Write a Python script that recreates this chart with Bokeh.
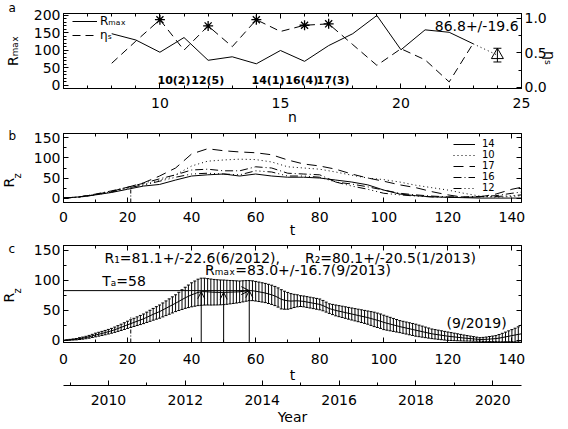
import math
from bokeh.plotting import figure
from bokeh.layouts import column
from bokeh.models import (Range1d, LinearAxis, Legend, LegendItem, Label, Arrow, OpenHead,
                          Whisker, TeeHead, ColumnDataSource, SingleIntervalTicker,
                          CustomJSTickFormatter, NumeralTickFormatter, Title)
from bokeh.embed import file_html
from bokeh.resources import INLINE

# ---------------- data: panel a ----------------
cycle_n = [8, 9, 10, 11, 12, 13, 14, 15, 16, 17, 18, 19, 20, 21, 22, 23]
r_max = [148, 130, 95, 137, 72, 82, 62, 100, 69, 114, 148, 200, 102, 159, 152, 119]
eta_s = [0.35, 0.67, 0.98, 0.54, 0.89, 0.59, 0.98, 0.81, 0.90, 0.92, 0.62, 0.32, 0.56, 0.40, 0.08, 0.64]
star_n = [10, 12, 14, 16, 17]
star_rank = [2, 5, 1, 4, 3]
pred_n = 24
pred_r = 86.8
pred_err = 19.6

# ---------------- data: panel b ----------------
t_b = [0, 5, 10, 15, 20, 25, 30, 35, 40, 45, 50, 55, 60, 65, 70, 75, 80, 85, 90, 95,
       100, 105, 110, 115, 120, 125, 130, 135, 140, 143]
rz_c14 = [0, 3, 8, 14, 22, 30, 34, 45, 55, 58, 60, 55, 60, 55, 52, 52, 50, 45, 40, 33,
          20, 10, 6, 3, 2, 1, 0, 0, 0, 0]
rz_c10 = [0, 3, 9, 16, 25, 33, 44, 58, 80, 92, 95, 97, 96, 90, 78, 75, 72, 65, 57, 50,
          46, 40, 32, 26, 20, 12, 5, 2, 4, 6]
rz_c17 = [0, 3, 9, 17, 27, 38, 55, 75, 110, 123, 118, 115, 113, 108, 95, 85, 80, 72, 60, 50,
          42, 33, 26, 16, 8, 2, 3, 10, 22, 27]
rz_c16 = [0, 3, 10, 18, 27, 37, 48, 58, 70, 72, 68, 68, 78, 75, 62, 60, 58, 40, 35, 28,
          20, 12, 8, 5, 3, 3, 4, 6, 12, 15]
rz_c12 = [0, 2, 8, 15, 25, 33, 42, 52, 60, 62, 60, 58, 68, 65, 55, 55, 52, 40, 30, 22,
          12, 8, 5, 3, 2, 2, 3, 4, 6, 8]
cycle_names = ["14", "10", "17", "16", "12"]

# ---------------- data: panel c ----------------
t_c = list(range(144))
mean_c = [0, 0.5, 1, 1.5, 2, 3, 3.8, 4.8, 6, 7.5,
          9, 10.3, 11.6, 13, 14.5, 16, 17.8, 19.8, 21.8, 23.8,
          26, 28, 30, 32, 34, 36, 38.5, 41, 43.5, 45.8,
          48, 50.8, 53.6, 56.4, 59.2, 62, 65, 68, 71, 73.5,
          76, 78, 80, 81.1, 81.3, 81, 80.6, 80.3, 80.1, 80,
          80.1, 80.2, 80.4, 80.6, 80.8, 81, 81.8, 82.5, 83, 82.8,
          82, 81, 80, 79, 77.5, 76, 74, 71.5, 68.5, 67,
          66, 65.5, 65.8, 66, 65.5, 65, 64, 63, 62, 61,
          60, 58, 55.5, 53, 51.5, 50, 48.8, 47.6, 46.4, 45.2,
          44, 42.8, 41.6, 40.4, 39.2, 38, 36.5, 35, 33.5, 32,
          30, 28.6, 27.2, 25.8, 24.4, 23, 21.8, 20.6, 19.4, 18.2,
          17, 15.8, 14.6, 13.4, 12.2, 11, 10.2, 9.4, 8.6, 7.8,
          7, 6.4, 5.8, 5.2, 4.6, 4, 3.5, 3, 2.5, 2,
          1.6, 1.6, 1.8, 2.2, 2.6, 3, 3.8, 4.8, 5.8, 6.9,
          8, 9, 10, 11]
sd_c = [0.3, 0.5, 0.7, 0.9, 1.1, 1.5, 1.7, 2, 2.3, 2.6,
        3, 3.2, 3.4, 3.6, 3.8, 4, 4.4, 4.8, 5.2, 5.6,
        6, 6.4, 6.8, 7.2, 7.6, 8, 8.6, 9.2, 9.8, 10.4,
        11, 11.6, 12.2, 12.8, 13.4, 14, 15.2, 16.4, 17.6, 18.8,
        20, 21, 22, 22.6, 22.4, 22, 21.7, 21.3, 21, 20.7,
        20.5, 20, 19.5, 19, 18.5, 18, 17.6, 17.2, 16.7, 16.5,
        16.3, 16.2, 16.1, 16, 16, 16, 16, 16, 16, 15,
        14, 12.5, 11, 10, 9, 9, 9, 9, 9, 9,
        9, 8.6, 8.3, 8, 8.5, 9, 9.2, 9.4, 9.6, 9.8,
        10, 10.2, 10.4, 10.6, 10.8, 11, 11.5, 12, 12, 12,
        12, 11.6, 11.2, 10.8, 10.4, 10, 10, 10, 10, 10,
        10, 9.6, 9.2, 8.8, 8.4, 8, 7.8, 7.6, 7.4, 7.2,
        7, 6.6, 6.2, 5.8, 5.4, 5, 4.6, 4.2, 3.8, 3.4,
        3, 3.4, 3.8, 4.2, 4.6, 5, 6, 7, 8, 9,
        10, 11.3, 12.6, 14]
peak_t = [43, 50, 58]
peak_r = [81.1, 80.1, 83.0]
peak_sd = [22.6, 20.5, 16.7]
peak_date = ["6/2012", "1/2013", "9/2013"]
t_a = 58
min_date = "9/2019"
now_t = 21
now_top_b = 30
now_top_c = 40
year0 = 2008.83   # calendar year at t = 0

# ---------------- styling helpers ----------------
FONT = "DejaVu Sans"
FS = "14px"
W = 568
BL, BR = 63, 46
NB = "\u00a0"


def base_fig(h, xr, yr, top, bottom):
    p = figure(width=W, height=h, x_range=xr, y_range=yr, output_backend="svg",
               toolbar_location=None, x_axis_location=None, y_axis_location=None,
               title=None, min_border_left=BL, min_border_right=BR,
               min_border_top=top, min_border_bottom=bottom,
               background_fill_color="white", border_fill_color="white")
    p.grid.visible = False
    p.outline_line_color = "black"
    p.outline_line_alpha = 1.0
    return p


def add_axis(p, side, interval, minor, labels=True, label=None, fmt=None, rng=None,
             standoff=8, label_standoff=0, tin=5, tmin=3, fs=FS, label_fs=FS):
    kw = {}
    if rng is not None:
        kw["x_range_name" if side in ("above", "below") else "y_range_name"] = rng
    ax = LinearAxis(ticker=SingleIntervalTicker(interval=interval, num_minor_ticks=minor), **kw)
    ax.axis_line_color = "black"
    ax.major_tick_line_color = "black"
    ax.minor_tick_line_color = "black"
    ax.major_tick_in = tin
    ax.major_tick_out = 0
    ax.minor_tick_in = tmin
    ax.minor_tick_out = 0
    if labels:
        if fmt is not None:
            ax.formatter = fmt
        ax.major_label_text_font = FONT
        ax.major_label_text_font_size = fs
        ax.major_label_text_color = "black"
        ax.major_label_standoff = standoff
    else:
        ax.formatter = CustomJSTickFormatter(code="return ''")
        ax.major_label_text_font_size = "0px"
        ax.major_label_standoff = 0
    if label:
        ax.axis_label = label
        ax.axis_label_text_font = FONT
        ax.axis_label_text_font_size = label_fs
        ax.axis_label_text_font_style = "normal"
        ax.axis_label_text_color = "black"
        ax.axis_label_standoff = label_standoff
    p.add_layout(ax, side)
    return ax


def txt(p, x, y, text, size=FS, align="left", baseline="middle", bold=False):
    p.add_layout(Label(x=x, y=y, text=text, text_font=FONT, text_font_size=size,
                       text_align=align, text_baseline=baseline, text_color="black",
                       text_font_style="bold" if bold else "normal"))


def side_title(p, side, text, offset, standoff, size=FS, valign="bottom"):
    p.add_layout(Title(text=text, align="left", offset=offset, standoff=standoff,
                       vertical_align=valign, text_font=FONT, text_font_size=size,
                       text_font_style="normal", text_color="black"), side)


# ---------------- panel a ----------------
xr_a = Range1d(6, 25)
yr_a = Range1d(-8.6, 205.7)
pa = base_fig(128, xr_a, yr_a, top=13, bottom=40)
pa.extra_y_ranges = {"eta": Range1d(-0.015, 1.07)}
add_axis(pa, "below", 5, 5, label="n", standoff=9, label_standoff=-2)
add_axis(pa, "above", 5, 5, labels=False)
add_axis(pa, "left", 50, 5, standoff=3, label="Rₘₐₓ", label_standoff=10)
ax_eta = add_axis(pa, "right", 0.5, 2, fmt=NumeralTickFormatter(format="0.0"), rng="eta",
                  standoff=3, label="ηₛ", label_standoff=0)
try:
    ax_eta.axis_label_orientation = -math.pi / 2
except Exception:
    pass
side_title(pa, "above", "a", offset=-55, standoff=-3.5, size="12px")

ra = pa.line(cycle_n, r_max, line_color="black", line_width=1)
rb = pa.line(cycle_n, eta_s, y_range_name="eta", line_color="black", line_width=1,
             line_dash="8 5")
star_eta = [eta_s[cycle_n.index(n)] for n in star_n]
pa.scatter(star_n, star_eta, y_range_name="eta", marker="asterisk", size=10,
           line_color="black", line_width=1.3)
pa.line([cycle_n[-1], pred_n], [r_max[-1], pred_r], line_color="black", line_width=1,
        line_dash="1 3")
pa.scatter([pred_n], [pred_r], marker="triangle", size=12, fill_color=None,
           line_color="black", line_width=1)
pa.add_layout(Whisker(source=ColumnDataSource(dict(x=[pred_n], lo=[pred_r - pred_err],
                                                   hi=[pred_r + pred_err])),
                      base="x", lower="lo", upper="hi", line_color="black", line_width=1,
                      upper_head=TeeHead(size=8, line_color="black", line_width=1),
                      lower_head=TeeHead(size=8, line_color="black", line_width=1)))

leg_a = Legend(items=[LegendItem(label="Rₘₐₓ", renderers=[ra]),
                      LegendItem(label="ηₛ", renderers=[rb])],
               location=(9, 46), orientation="vertical", glyph_width=25, glyph_height=12,
               label_height=12, spacing=0, padding=0, margin=0, label_standoff=3,
               border_line_color=None, background_fill_alpha=0,
               label_text_font=FONT, label_text_font_size="12px",
               label_text_color="black")
pa.add_layout(leg_a)

txt(pa, 21.4, 171, f"{pred_r}+/-{pred_err}")
STAR_LBL_X = [9.9, 11.3, 13.8, 15.2, 16.5]
for lx, n, rk in zip(STAR_LBL_X, star_n, star_rank):
    txt(pa, lx, 14, f"{n}({rk})", size="11px", bold=True)

# ---------------- panel b ----------------
xr_b = Range1d(0, 143)
yr_b = Range1d(-11, 161)
pb = base_fig(113, xr_b, yr_b, top=5, bottom=39)
add_axis(pb, "below", 20, 2, label="t", standoff=9, label_standoff=-3)
add_axis(pb, "above", 20, 2, labels=False)
add_axis(pb, "left", 50, 2, standoff=3, label="z" + NB * 5, label_standoff=8,
         label_fs="10px")
add_axis(pb, "right", 50, 2, labels=False)
side_title(pb, "left", "R", offset=15, standoff=-17.9)
side_title(pb, "above", "b", offset=-55, standoff=-19, size="12px")

dashes = ["solid", "1 3", "10 6", "8 3 1 3", "8 3 1 3 1 3 1 3"]
series_b = [rz_c14, rz_c10, rz_c17, rz_c16, rz_c12]
items_b = []
for name, ys, d in zip(cycle_names, series_b, dashes):
    r = pb.line(t_b, ys, line_color="black", line_width=1, line_dash=d)
    items_b.append(LegendItem(label=name, renderers=[r]))
pb.segment(x0=[now_t], y0=[yr_b.start], x1=[now_t], y1=[now_top_b], line_color="black",
           line_width=1, line_dash="4 2 1 2")
leg_b = Legend(items=items_b, location=(390, 9), orientation="vertical", glyph_width=22,
               glyph_height=10, label_height=10, spacing=0, padding=0, margin=0,
               label_standoff=7, border_line_color=None, background_fill_alpha=0,
               label_text_font=FONT, label_text_font_size="10px", label_text_color="black")
pb.add_layout(leg_b)

# ---------------- panel c ----------------
xr_c = Range1d(0, 143)
yr_c = Range1d(-3.5, 158.2)
pc = base_fig(188, xr_c, yr_c, top=4, bottom=87)
pc.extra_x_ranges = {"year": Range1d(year0, year0 + 143 / 12)}
add_axis(pc, "below", 20, 2, label="t", standoff=11, label_standoff=0)
add_axis(pc, "below", 2, 2, label="Year", rng="year", standoff=9, label_standoff=1,
         tin=5, tmin=3)
add_axis(pc, "above", 20, 2, labels=False)
add_axis(pc, "left", 50, 2, standoff=3, label=NB * 2 + "z", label_standoff=8,
         label_fs="10px")
add_axis(pc, "right", 50, 2, labels=False)
side_title(pc, "left", "R", offset=40, standoff=-17.9)
side_title(pc, "above", "c", offset=-55, standoff=-21, size="12px")

src_c = ColumnDataSource(dict(t=t_c,
                              lo=[m - s for m, s in zip(mean_c, sd_c)],
                              hi=[m + s for m, s in zip(mean_c, sd_c)]))
pc.add_layout(Whisker(source=src_c, base="t", lower="lo", upper="hi", line_color="black",
                      line_width=1,
                      upper_head=TeeHead(size=3, line_color="black", line_width=1),
                      lower_head=TeeHead(size=3, line_color="black", line_width=1)))
pc.line(t_c, mean_c, line_color="black", line_width=1)
for tp, rp in zip(peak_t, peak_r):
    pc.add_layout(Arrow(end=OpenHead(size=7, line_color="black", line_width=1),
                        x_start=tp, y_start=yr_c.start, x_end=tp, y_end=rp,
                        line_color="black", line_width=1))
pc.add_layout(Arrow(end=OpenHead(size=8, line_color="black", line_width=1),
                    x_start=0, y_start=peak_r[2], x_end=t_a, y_end=peak_r[2],
                    line_color="black", line_width=1))
pc.segment(x0=[now_t], y0=[yr_c.start], x1=[now_t], y1=[now_top_c], line_color="black",
           line_width=1, line_dash="4 2 1 2")

txt(pc, 12.8, 138, f"R₁={peak_r[0]}+/-{peak_sd[0]}({peak_date[0]}),")
txt(pc, 75.4, 138, f"R₂={peak_r[1]}+/-{peak_sd[1]}({peak_date[1]})")
txt(pc, 44.2, 118, f"Rₘₐₓ={peak_r[2]}+/-{peak_sd[2]}({peak_date[2]})")
txt(pc, 12.1, 99, f"Tₐ={t_a}")
txt(pc, 119.6, 29, f"({min_date})")

layout = column(pa, pb, pc)
open("out.html", "w").write(file_html(layout, INLINE))
